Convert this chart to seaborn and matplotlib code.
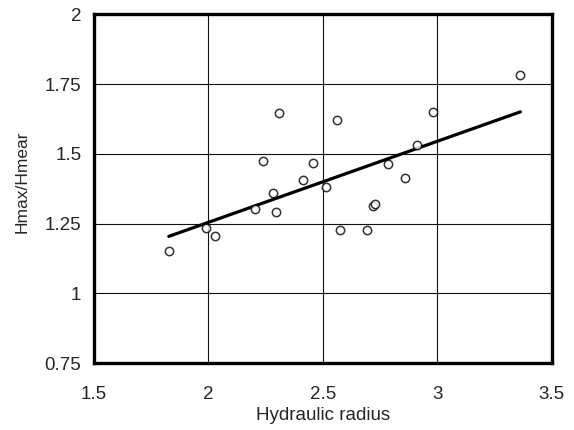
import matplotlib
matplotlib.use("Agg")
import matplotlib.pyplot as plt
import matplotlib.patheffects as pe
import seaborn as sns
import numpy as np
import pandas as pd

hydraulic_radius = [1.827, 1.989, 2.029, 2.204, 2.239, 2.281, 2.296, 2.309,
                    2.415, 2.457, 2.513, 2.561, 2.575, 2.693, 2.720, 2.727,
                    2.785, 2.860, 2.910, 2.980, 3.364]
hmax_hmean = [1.153, 1.233, 1.204, 1.301, 1.473, 1.359, 1.290, 1.645,
              1.405, 1.468, 1.381, 1.623, 1.227, 1.227, 1.313, 1.319,
              1.462, 1.415, 1.531, 1.651, 1.783]
x_ticks = [1.5, 2, 2.5, 3, 3.5]
x_tick_labels = ["1.5", "2", "2.5", "3", "3.5"]
y_ticks = [0.75, 1, 1.25, 1.5, 1.75, 2]
y_tick_labels = ["0.75", "1", "1.25", "1.5", "1.75", "2"]

df = pd.DataFrame({"x": hydraulic_radius, "y": hmax_hmean})

sns.set_style("white")
plt.rcParams['font.family'] = ['Liberation Sans', 'DejaVu Sans']

fig = plt.figure(figsize=(5.74, 4.30), dpi=100)
ax = fig.add_axes([94 / 574, 1 - 363 / 430, (551.5 - 94) / 574, (363 - 14.5) / 430])

sns.regplot(data=df, x="x", y="y", ax=ax, ci=None,
            scatter_kws=dict(s=36, facecolor="white", edgecolor="black", linewidths=1.1, zorder=4),
            line_kws=dict(color="black", lw=2.3, zorder=3))

ax.set_xlim(1.5, 3.5)
ax.set_ylim(0.75, 2)
ax.set_xticks(x_ticks)
ax.set_xticklabels(x_tick_labels)
ax.set_yticks(y_ticks)
ax.set_yticklabels(y_tick_labels)
ax.grid(True, color="#111111", lw=0.8)
ax.set_axisbelow(True)
for name, s in ax.spines.items():
    s.set_visible(True)
    s.set_color("black")
    s.set_linewidth(2.4)
    s.set_zorder(6)
for name in ("right", "bottom"):
    ax.spines[name].set_path_effects([
        pe.SimplePatchShadow(offset=(1.2, -1.2), shadow_rgbFace="#999999", alpha=0.8),
        pe.Normal()])
ax.tick_params(axis="both", direction="in", length=4, width=0.8, labelsize=13.5, color="black")
ax.tick_params(axis="x", pad=16.5)
ax.tick_params(axis="y", pad=9)
ax.set_xlabel("Hydraulic radius", fontsize=13.5, labelpad=3)
ax.set_ylabel("Hmax/Hmear", fontsize=12.5)
ax.yaxis.set_label_coords(30 / 574, 1 - 182 / 430, transform=fig.transFigure)

fig.savefig("out.png", dpi=100)
